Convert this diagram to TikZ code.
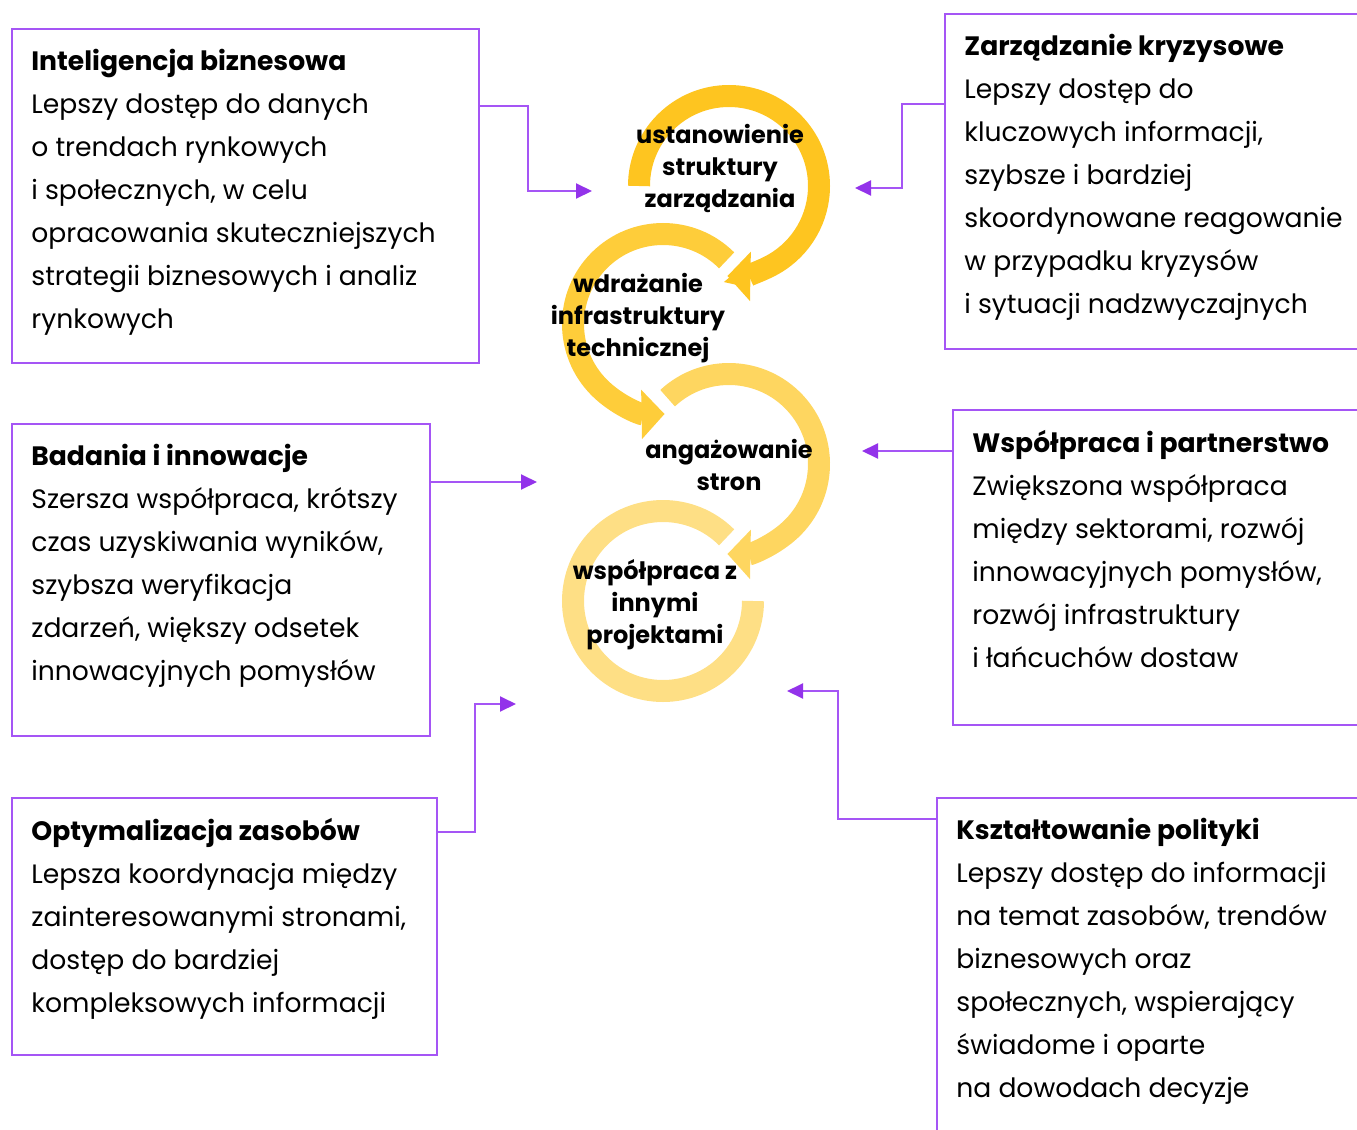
\documentclass[tikz,border=0pt]{standalone}
\usepackage{fontspec}
\setmainfont{Poppins}
\usetikzlibrary{arrows.meta,calc}
\definecolor{lila}{RGB}{165,85,245}
\definecolor{lilatip}{RGB}{147,51,234}
\definecolor{gold1}{RGB}{254,197,32}
\definecolor{gold2}{RGB}{254,205,58}
\definecolor{gold3}{RGB}{254,214,96}
\definecolor{gold4}{RGB}{254,223,133}
\begin{document}
\begin{tikzpicture}[x=0.5pt, y=-0.5pt,
        box/.style={draw=lila, line width=1pt, anchor=north west, inner sep=0pt},
        txt/.style={anchor=north west, inner sep=0pt, align=left, font=\fontsize{13.3}{21.5}\selectfont},
        conn/.style={draw=lila, line width=1pt, -{Triangle[length=8pt, width=7.5pt, color=lilatip]}},
        ring/.style={line width=11pt},
        ringarrow/.style={ring, -{Triangle[length=11.5pt, width=24pt]}},
        lab/.style={align=center, inner sep=0pt, font=\bfseries\fontsize{12}{16}\selectfont}]
    \useasboundingbox (0,0) rectangle (1357,1130);
    \clip (0,0) rectangle (1357,1130);
    % Cycle in the middle
    \coordinate (r1) at (729,186);
    \coordinate (r2) at (663,324);
    \coordinate (r3) at (729,464);
    \coordinate (r4) at (663,601);
    \draw[gold1, ringarrow] ($(r1)+(180:45pt)$) arc[start angle=180, end angle=-91, radius=45pt];
    \draw[gold2, ringarrow] ($(r2)+(45:45pt)$) arc[start angle=45, end angle=271, radius=45pt];
    \draw[gold3, ringarrow] ($(r3)+(133:45pt)$) arc[start angle=133, end angle=-91, radius=45pt];
    \draw[gold4, ring] ($(r4)+(45:45pt)$) arc[start angle=45, end angle=360, radius=45pt];
    \node[lab] (l1) at (720,168) {ustanowienie\\struktury\\zarządzania};
    \node[lab] (l2) at (638,318) {wdrażanie\\infrastruktury\\technicznej};
    \node[lab] (l3) at (729,465) {angażowanie\\stron};
    \node[lab] (l4) at (655,605) {współpraca z\\innymi\\projektami};
    % Boxes
    \node[box, minimum width=233.5pt, minimum height=167pt] (ib) at (11,28) {};
    \node[box, minimum width=220pt, minimum height=167.5pt] (zk) at (944,13) {};
    \node[box, minimum width=209pt, minimum height=156pt] (bi) at (11,423) {};
    \node[box, minimum width=220pt, minimum height=157.5pt] (wp) at (952,409) {};
    \node[box, minimum width=212.5pt, minimum height=128.5pt] (oz) at (11,797) {};
    \node[box, minimum width=220pt, minimum height=200pt] (kp) at (936,797) {};
    \node[txt] (ibtxt) at ([shift={(20,21)}]ib.north west) {\textbf{Inteligencja biznesowa}\\
        Lepszy dostęp do danych\\o trendach rynkowych\\i społecznych, w celu\\
        opracowania skuteczniejszych\\strategii biznesowych i analiz\\rynkowych};
    \node[txt] (zktxt) at ([shift={(20,21)}]zk.north west) {\textbf{Zarządzanie kryzysowe}\\
        Lepszy dostęp do\\kluczowych informacji,\\szybsze i bardziej\\
        skoordynowane reagowanie\\w przypadku kryzysów\\i sytuacji nadzwyczajnych};
    \node[txt] (bitxt) at ([shift={(20,21)}]bi.north west) {\textbf{Badania i innowacje}\\
        Szersza współpraca, krótszy\\czas uzyskiwania wyników,\\szybsza weryfikacja\\
        zdarzeń, większy odsetek\\innowacyjnych pomysłów};
    \node[txt] (wptxt) at ([shift={(20,21)}]wp.north west) {\textbf{Współpraca i partnerstwo}\\
        Zwiększona współpraca\\między sektorami, rozwój\\innowacyjnych pomysłów,\\
        rozwój infrastruktury\\i łańcuchów dostaw};
    \node[txt] (oztxt) at ([shift={(20,21)}]oz.north west) {\textbf{Optymalizacja zasobów}\\
        Lepsza koordynacja między\\zainteresowanymi stronami,\\dostęp do bardziej\\
        kompleksowych informacji};
    \node[txt] (kptxt) at ([shift={(20,21)}]kp.north west) {\textbf{Kształtowanie polityki}\\
        Lepszy dostęp do informacji\\na temat zasobów, trendów\\biznesowych oraz\\
        społecznych, wspierający\\świadome i oparte\\na dowodach decyzje};
    % Connectors
    \coordinate (t1) at (592,191);
    \coordinate (t2) at (855,188);
    \coordinate (t3) at (537,482);
    \coordinate (t4) at (862,451);
    \coordinate (t5) at (516,704);
    \coordinate (t6) at (787,691);
    \draw[conn] (ib.east |- 0,106) -- ++(48,0) |- (t1);
    \draw[conn] (zk.west |- 0,104) -- ++(-42,0) |- (t2);
    \draw[conn] (bi.east |- 0,482) -- (t3);
    \draw[conn] (wp.west |- 0,451) -- (t4);
    \draw[conn] (oz.east |- 0,832) -- ++(37,0) |- (t5);
    \draw[conn] (kp.west |- 0,819) -- ++(-98,0) |- (t6);
\end{tikzpicture}
\end{document}
